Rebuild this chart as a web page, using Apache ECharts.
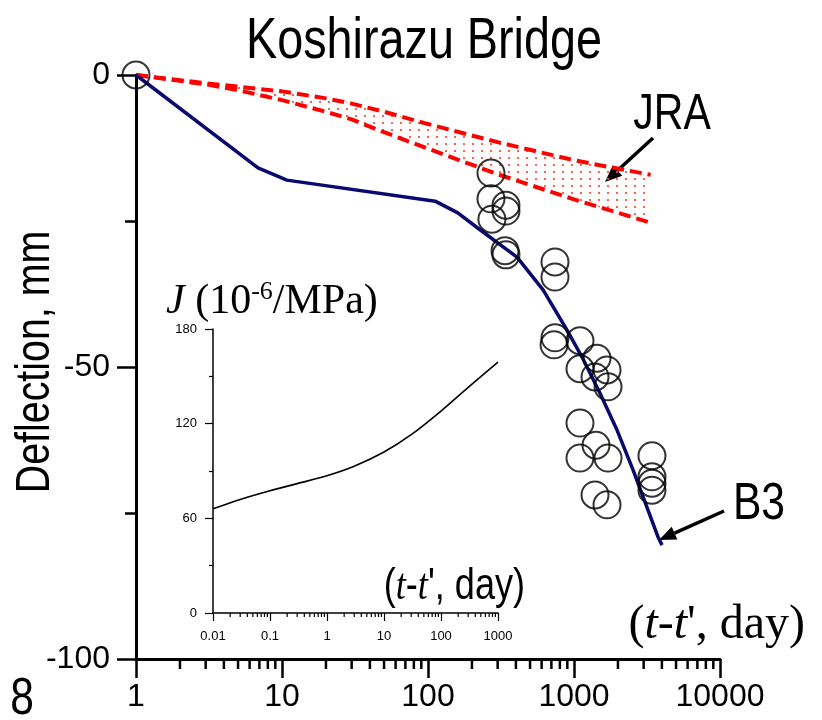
<!DOCTYPE html>
<html>
<head>
<meta charset="utf-8">
<title>Koshirazu Bridge</title>
<script src="https://cdn.jsdelivr.net/npm/echarts@6/dist/echarts.min.js"></script>
<style>
  html, body { margin: 0; padding: 0; background: #fff; }
  #chart { width: 822px; height: 720px; }
</style>
</head>
<body>
<div id="chart"></div>
<script>
// B3 model prediction of mid-span deflection (mm) vs. load duration (days)
const b3Days = [1, 6.85, 10.8, 112, 160, 227, 407, 614, 896, 1135, 1507, 1971, 2537, 3761, 4006];
const b3Deflection = [0, -15.9, -18.0, -21.6, -23.6, -26.5, -31.2, -36.8, -43.7, -48.3, -54.5, -60.8, -67.6, -79.1, -80.5];

// JRA specification band (upper and lower bounds)
const jraDays = [1, 2, 3, 5, 10, 20, 30, 50, 100, 300, 1000, 3350];
const jraUpper = [0, -0.9, -1.4, -2.0, -2.8, -4.0, -4.9, -6.3, -8.4, -11.5, -14.6, -17.1];
const jraLower = [0, -1.0, -1.6, -2.6, -4.3, -6.3, -7.6, -9.8, -12.6, -17.0, -21.3, -25.3];

// Measured deflections
const obsDays = [1, 270, 270, 342, 342, 274, 337, 342, 741, 741, 741, 730, 1099, 1437, 1099, 1683, 1393, 1710, 1099, 1415, 1099, 1710, 3420, 3420, 3420, 3420, 1393, 1683];
const obsDeflection = [0, -16.8, -21.2, -22.3, -23.3, -24.7, -30.1, -30.8, -32.0, -34.6, -45.0, -46.2, -45.5, -48.5, -50.3, -50.5, -51.7, -53.4, -59.6, -63.4, -65.6, -65.6, -65.2, -68.8, -69.9, -71.1, -71.9, -73.6];

// Creep compliance J (10^-6/MPa) vs. t-t' (days), inset
const jDays = [0.01, 0.03, 0.1, 0.3, 1, 3, 10, 30, 100, 300, 1000];
const jCompliance = [66, 72, 77.5, 82, 87, 93, 102, 113, 128, 143, 159];

// Tick labels
const mainXTickLabels = ['1', '10', '100', '1000', '10000'];
const mainYTickLabels = ['-100', '-50', '0'];
const insetXTickLabels = ['0.01', '0.1', '1', '10', '100', '1000'];
const insetYTickLabels = ['0', '60', '120', '180'];

const SANS = "'Liberation Sans', Arial, sans-serif";
const SERIF = "'Liberation Serif', 'Times New Roman', serif";
const NARROW_X = 0.82; // horizontal squeeze for the condensed lettering

function pickLabel(list, v) {
  let best = list[0], bd = Infinity;
  for (const s of list) {
    const d = Math.abs(+s - v) / Math.max(1e-9, Math.abs(v) || 1);
    if (d < bd) { bd = d; best = s; }
  }
  return best;
}

// minor tick positions (2..9 per decade) for log axes
function logMinorValues(lo, hi) {
  const out = [];
  for (let e = Math.round(Math.log10(lo)); e < Math.round(Math.log10(hi)); e++) {
    const d = Math.pow(10, e);
    for (let k = 2; k <= 9; k++) out.push(+(k * d).toPrecision(6));
  }
  return out;
}

function minorTickSeries(xIdx, yIdx, values, yBase, len, width) {
  return {
    type: 'custom', xAxisIndex: xIdx, yAxisIndex: yIdx, silent: true, clip: false, z: 1,
    data: values.map(v => [v, yBase]),
    renderItem(params, api) {
      const p = api.coord([api.value(0), api.value(1)]);
      return { type: 'line', shape: { x1: p[0], y1: p[1], x2: p[0], y2: p[1] + len },
               style: { stroke: '#000', lineWidth: width } };
    }
  };
}

// dotted fill for the JRA band
const dots = document.createElement('canvas');
dots.width = 9; dots.height = 7;
(function () {
  const c = dots.getContext('2d');
  c.fillStyle = 'rgba(255,70,50,0.85)';
  c.fillRect(4, 3, 2, 2);
})();

function arrow(x0, y0, x1, y1) {
  const dx = x1 - x0, dy = y1 - y0, L = Math.hypot(dx, dy);
  const ux = dx / L, uy = dy / L, hl = 17, hw = 7;
  const bx = x1 - ux * hl, by = y1 - uy * hl;
  return [
    { type: 'line', shape: { x1: x0, y1: y0, x2: bx, y2: by }, style: { stroke: '#000', lineWidth: 3.5 } },
    { type: 'polygon', shape: { points: [[x1, y1], [bx - uy * hw, by + ux * hw], [bx + uy * hw, by - ux * hw]] }, style: { fill: '#000' } }
  ];
}

function narrowText(text, x, y, size, extra) {
  return Object.assign({
    type: 'text', x: x, y: y, scaleX: NARROW_X,
    style: { text: text, font: size + 'px ' + SANS, fill: '#000', align: 'center', verticalAlign: 'middle' }
  }, extra || {});
}

const chart = echarts.init(document.getElementById('chart'), null, { renderer: 'canvas' });

const option = {
  backgroundColor: '#fff',
  animation: false,
  grid: [
    { left: 136, top: 75, width: 584, height: 584, containLabel: false, outerBoundsMode: 'none' },
    { left: 213, top: 329, width: 285, height: 284, containLabel: false, outerBoundsMode: 'none' }
  ],
  xAxis: [
    {
      gridIndex: 0, type: 'log', logBase: 10, min: 1, max: 10000,
      axisLine: { onZero: false, lineStyle: { color: '#000', width: 3 } },
      axisTick: { length: 19, lineStyle: { color: '#000', width: 2.5 } },
      axisLabel: { color: '#000', fontFamily: SANS, fontSize: 32, margin: 22,
                   formatter: v => pickLabel(mainXTickLabels, v) },
      splitLine: { show: false }
    },
    {
      gridIndex: 1, type: 'log', logBase: 10, min: 0.01, max: 1000,
      axisLine: { onZero: false, lineStyle: { color: '#000', width: 1.5 } },
      axisTick: { length: 8, lineStyle: { color: '#000', width: 1.2 } },
      axisLabel: { color: '#000', fontFamily: SANS, fontSize: 13, margin: 17,
                   formatter: v => pickLabel(insetXTickLabels, v) },
      splitLine: { show: false }
    }
  ],
  yAxis: [
    {
      gridIndex: 0, type: 'value', min: -100, max: 0, interval: 50,
      axisLine: { show: true, onZero: false, lineStyle: { color: '#000', width: 3 } },
      axisTick: { show: true, length: 19, lineStyle: { color: '#000', width: 2.5 } },
      minorTick: { show: true, splitNumber: 2, length: 11, lineStyle: { color: '#000', width: 2.5 } },
      axisLabel: { color: '#000', fontFamily: SANS, fontSize: 32, margin: 26,
                   formatter: v => pickLabel(mainYTickLabels, v) },
      splitLine: { show: false }
    },
    {
      gridIndex: 1, type: 'value', min: 0, max: 180, interval: 60,
      axisLine: { show: true, onZero: false, lineStyle: { color: '#000', width: 1.5 } },
      axisTick: { show: true, length: 8, lineStyle: { color: '#000', width: 1.2 } },
      minorTick: { show: true, splitNumber: 2, length: 4, lineStyle: { color: '#000', width: 1.2 } },
      axisLabel: { color: '#000', fontFamily: SANS, fontSize: 13, margin: 16,
                   formatter: v => pickLabel(insetYTickLabels, v) },
      splitLine: { show: false }
    }
  ],
  series: [
    {
      type: 'custom', xAxisIndex: 0, yAxisIndex: 0, silent: true, clip: false, z: 1,
      data: [[1, 0]],
      renderItem(params, api) {
        const pts = [];
        for (let i = 0; i < jraDays.length; i++) pts.push(api.coord([jraDays[i], jraUpper[i]]));
        for (let i = jraDays.length - 1; i >= 0; i--) pts.push(api.coord([jraDays[i], jraLower[i]]));
        return { type: 'polygon', shape: { points: pts },
                 style: { fill: { image: dots, repeat: 'repeat' } } };
      }
    },
    minorTickSeries(0, 0, logMinorValues(1, 10000), -100, 10, 2.5),
    minorTickSeries(1, 1, logMinorValues(0.01, 1000), 0, 4, 1.2),
    {
      name: 'JRA upper', type: 'line', xAxisIndex: 0, yAxisIndex: 0, z: 3,
      data: jraDays.map((d, i) => [d, jraUpper[i]]),
      showSymbol: false, symbol: 'none', clip: false,
      lineStyle: { color: '#ff0000', width: 4, type: [12, 6] }
    },
    {
      name: 'JRA lower', type: 'line', xAxisIndex: 0, yAxisIndex: 0, z: 3,
      data: jraDays.map((d, i) => [d, jraLower[i]]),
      showSymbol: false, symbol: 'none', clip: false,
      lineStyle: { color: '#ff0000', width: 4, type: [12, 6] }
    },
    {
      name: 'B3', type: 'line', xAxisIndex: 0, yAxisIndex: 0, z: 4,
      data: b3Days.map((d, i) => [d, b3Deflection[i]]),
      showSymbol: false, symbol: 'none', clip: false,
      lineStyle: { color: '#0a0a6e', width: 3.5 }
    },
    {
      name: 'Measured', type: 'scatter', xAxisIndex: 0, yAxisIndex: 0, z: 5, clip: false,
      data: obsDays.map((d, i) => [d, obsDeflection[i]]),
      symbol: 'circle', symbolSize: 27,
      itemStyle: { color: 'rgba(0,0,0,0)', borderColor: '#000', borderWidth: 2 }
    },
    {
      name: 'J', type: 'line', xAxisIndex: 1, yAxisIndex: 1, z: 4,
      data: jDays.map((d, i) => [d, jCompliance[i]]),
      showSymbol: false, symbol: 'none', smooth: 0.3,
      lineStyle: { color: '#000', width: 1.6 }
    }
  ],
  graphic: [
    narrowText('Koshirazu Bridge', 424, 42, 57),
    narrowText('JRA', 672, 115, 50),
    narrowText('B3', 759, 505, 52),
    narrowText('8', 22, 700, 52),
    narrowText('Deflection, mm', 36, 362, 48, { rotation: Math.PI / 2, scaleX: NARROW_X }),
    ...arrow(653, 138, 605, 182),
    ...arrow(724, 511, 659, 540),
    {
      type: 'text', x: 805, y: 625,
      style: {
        text: '{n|(}{i|t}{n|-}{i|t}{n|\', day)}', align: 'right', verticalAlign: 'middle',
        rich: {
          n: { fontFamily: SERIF, fontSize: 48, fill: '#000', fontStyle: 'normal' },
          i: { fontFamily: SERIF, fontSize: 48, fill: '#000', fontStyle: 'italic' }
        }
      }
    },
    {
      type: 'text', x: 525, y: 587, scaleX: NARROW_X,
      style: {
        text: '{n|(}{i|t}{n|-}{i|t}{n|\', day)}', align: 'right', verticalAlign: 'middle',
        rich: {
          n: { fontFamily: SANS, fontSize: 44, fill: '#000', fontStyle: 'normal' },
          i: { fontFamily: SERIF, fontSize: 44, fill: '#000', fontStyle: 'italic' }
        }
      }
    },
    {
      type: 'text', x: 166, y: 302,
      style: {
        text: '{i|J}{n| (10}{s|-6}{n|/MPa)}', align: 'left', verticalAlign: 'middle',
        rich: {
          i: { fontFamily: SERIF, fontSize: 42, fill: '#000', fontStyle: 'italic', lineHeight: 46 },
          n: { fontFamily: SERIF, fontSize: 42, fill: '#000', lineHeight: 46 },
          s: { fontFamily: SERIF, fontSize: 26, fill: '#000', verticalAlign: 'top', lineHeight: 27 }
        }
      }
    }
  ]
};

chart.setOption(option);
</script>
</body>
</html>
